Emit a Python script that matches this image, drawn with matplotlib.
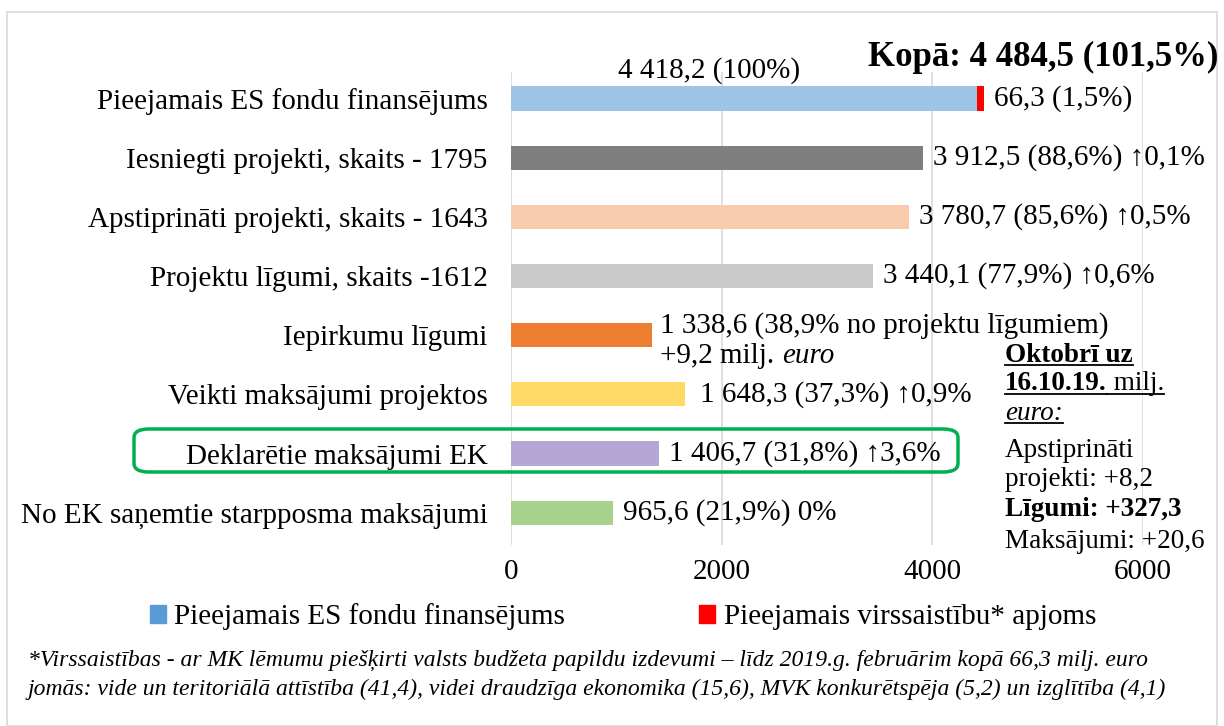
import numpy as np
import matplotlib
matplotlib.use('Agg')
import matplotlib.pyplot as plt
from matplotlib.patches import FancyBboxPatch, Rectangle, Patch

plt.rcParams['font.family'] = ['Liberation Serif', 'DejaVu Serif']

categories = ["Pieejamais ES fondu finansējums",
              "Iesniegti projekti, skaits - 1795",
              "Apstiprināti projekti, skaits - 1643",
              "Projektu līgumi, skaits -1612",
              "Iepirkumu līgumi",
              "Veikti maksājumi projektos",
              "Deklarētie maksājumi EK",
              "No EK saņemtie starpposma maksājumi"]
values = [4418.2, 3912.5, 3780.7, 3440.1, 1338.6, 1648.3, 1406.7, 965.6]
extra = 66.3  # virssaistības
labels = ["4 418,2 (100%)",
          "3 912,5 (88,6%) \u21910,1%",
          "3 780,7 (85,6%) \u21910,5%",
          "3 440,1 (77,9%) \u21910,6%",
          "1 338,6 (38,9% no projektu līgumiem)",
          "1 648,3 (37,3%) \u21910,9%",
          "1 406,7 (31,8%) \u21913,6%",
          "965,6 (21,9%) 0%"]
colors = ["#9DC3E6", "#7F7F7F", "#F8CBAD", "#C9C9C9",
          "#ED7D31", "#FFD966", "#B4A7D6", "#A9D18E"]
xticks = [0, 2000, 4000, 6000]

W, H = 1224.0, 726.0
fig = plt.figure(figsize=(12.24, 7.26), dpi=100)
ax = fig.add_axes([0.4175, 0.249, 0.5165, 0.652])

y = np.arange(len(categories))
ax.barh(y, values, height=0.41, color=colors, zorder=3)
ax.barh(0, extra, left=values[0], height=0.41, color="#FF0000", zorder=3)

fs = 21
ax.set_ylim(7.55, -0.45)
ax.set_xlim(0, 6000)
ax.set_xticks(xticks)
ax.set_xticklabels([str(t) for t in xticks], fontsize=fs)
ax.set_yticks(y)
ax.set_yticklabels(categories, fontsize=fs)
ax.tick_params(length=0, axis='y', pad=17)
ax.tick_params(length=0, axis='x', pad=10)
ax.grid(True, axis='x', color='#D9D9D9', linewidth=1.2, zorder=0)
for s in ax.spines.values():
    s.set_visible(False)

# data labels
ax.text(1880, -0.48, labels[0], fontsize=fs, ha='center', va='center')
ax.text(values[0] + extra + 100, 0, "66,3 (1,5%)", fontsize=fs, ha='left', va='center')
for i in [1, 2, 3, 6]:
    ax.text(values[i] + 95, i, labels[i], fontsize=fs, ha='left', va='center')
ax.text(values[5] + 150, 5, labels[5], fontsize=fs, ha='left', va='center')
ax.text(values[7] + 95, 7, labels[7], fontsize=fs, ha='left', va='center')
ax.text(values[4] + 80, 3.83, labels[4], fontsize=fs, ha='left', va='center')
t1 = ax.text(values[4] + 80, 4.36, "+9,2 milj. ", fontsize=fs, ha='left', va='center')
fig.canvas.draw()
bb = t1.get_window_extent()
fig.text(bb.x1 / W, (bb.y0 + bb.y1) / 2 / H, "euro",
         fontsize=fs, style='italic', ha='left', va='center')

# title
fig.text(0.995, 0.921, "Kopā: 4 484,5 (101,5%)", fontsize=25, fontweight='bold',
         ha='right', va='center')

# green highlight box
fig.patches.append(FancyBboxPatch((134 / W, 1 - 472 / H), (958 - 134) / W, 43 / H,
                                  boxstyle="round,pad=0,rounding_size=0.012",
                                  transform=fig.transFigure, fill=False,
                                  edgecolor='#00B050', linewidth=2.5))


# side annotation
def underline(t):
    fig.canvas.draw()
    b = t.get_window_extent()
    yy = b.y0 + 3
    fig.add_artist(plt.Line2D([b.x0, b.x1], [yy, yy], transform=None, color='black', linewidth=1.3))


sfs = 19.5
x0 = 1005 / W
a = fig.text(x0, 1 - 355 / H, "Oktobrī uz", fontsize=sfs, fontweight='bold', va='center')
underline(a)
b1 = fig.text(x0, 1 - 384 / H, "16.10.19.", fontsize=sfs, fontweight='bold', va='center')
underline(b1)
fig.canvas.draw()
e = b1.get_window_extent()
b2 = fig.text(e.x1 / W, 1 - 384 / H, " milj.", fontsize=sfs, va='center')
underline(b2)
c = fig.text(x0, 1 - 413 / H, "euro:", fontsize=sfs, style='italic', va='center')
underline(c)
fig.text(x0, 1 - 450 / H, "Apstiprināti", fontsize=sfs, va='center')
fig.text(x0, 1 - 479 / H, "projekti: +8,2", fontsize=sfs, va='center')
fig.text(x0, 1 - 510 / H, "Līgumi: +327,3", fontsize=sfs, fontweight='bold', va='center')
fig.text(x0, 1 - 541 / H, "Maksājumi: +20,6", fontsize=sfs, va='center')

# legend
handles = [Patch(color="#5B9BD5", label="Pieejamais ES fondu finansējums"),
           Patch(color="#FF0000", label="Pieejamais virssaistību* apjoms")]
fig.legend(handles=handles, loc='center', bbox_to_anchor=(0.509, 1 - 617 / H), ncol=2,
           frameon=False, fontsize=fs, handlelength=0.55, handleheight=0.55,
           handletextpad=0.3, columnspacing=4.6, borderaxespad=0)

# footnote
ffs = 17
fig.text(28 / W, 1 - 660 / H,
         "*Virssaistības - ar MK lēmumu piešķirti valsts budžeta papildu izdevumi – līdz 2019.g. februārim kopā 66,3 milj. euro",
         fontsize=ffs, style='italic', va='center')
fig.text(28 / W, 1 - 689 / H,
         "jomās: vide un teritoriālā attīstība (41,4), videi draudzīga ekonomika (15,6), MVK konkurētspēja (5,2) un izglītība (4,1)",
         fontsize=ffs, style='italic', va='center')

# outer frame
fig.patches.append(Rectangle((7 / W, 0.0), (1217 - 7) / W, 1 - 12 / H, transform=fig.transFigure,
                             fill=False, edgecolor='#D9D9D9', linewidth=1.2))

fig.savefig("out.png", dpi=100)
